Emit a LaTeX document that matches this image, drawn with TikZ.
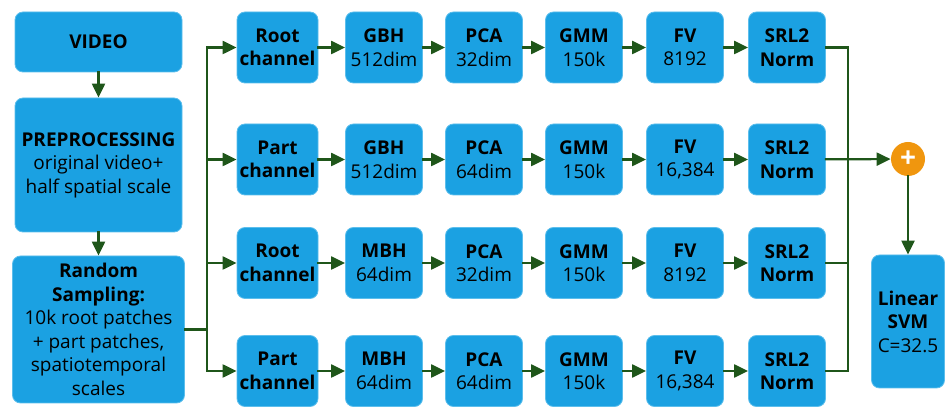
\documentclass[tikz,border=0pt]{standalone}
\usepackage{fontspec}
\setmainfont{Open Sans}
\usetikzlibrary{arrows.meta}
\definecolor{boxblue}{HTML}{1BA1E2}
\definecolor{boxedge}{HTML}{5CBEEC}
\definecolor{arrgreen}{HTML}{1F561A}
\definecolor{plusorange}{HTML}{F0960E}

\begin{document}
\begin{tikzpicture}[x=1pt,y=1pt,
		every node/.style={rectangle,rounded corners=8pt,fill=boxblue,draw=boxedge,line width=0.8pt,
			align=center,inner sep=2pt,font=\fontsize{19}{23.5}\selectfont},
		box/.style={minimum width=77pt,minimum height=71pt}]
				\useasboundingbox (0,0) rectangle (948,407);

				\node[minimum width=167pt,minimum height=60pt] (video) at (98.5,365) {\textbf{VIDEO}};
				\node[minimum width=167pt,minimum height=134pt] (prep) at (98.5,242) {\textbf{PREPROCESSING}\\original video+\\half spatial scale};
				\node[minimum width=172pt,minimum height=147pt] (samp) at (98.5,77.5) {\textbf{Random}\\\textbf{Sampling:}\\10k root patches\\+ part patches,\\spatiotemporal\\scales};

				\node[box,minimum width=81pt] (ch1) at (277.5,359.5) {\textbf{Root}\\\textbf{channel}};
				\node[box] (fe1) at (384,359.5) {\textbf{GBH}\\512dim};
				\node[box] (pc1) at (484,359.5) {\textbf{PCA}\\32dim};
				\node[box] (gm1) at (584,359.5) {\textbf{GMM}\\150k};
				\node[box] (fv1) at (685,359.5) {\textbf{FV}\\8192};
				\node[box] (nm1) at (787,359.5) {\textbf{SRL2}\\\textbf{Norm}};

				\node[box,minimum width=81pt] (ch2) at (277.5,247.5) {\textbf{Part}\\\textbf{channel}};
				\node[box] (fe2) at (384,247.5) {\textbf{GBH}\\512dim};
				\node[box] (pc2) at (484,247.5) {\textbf{PCA}\\64dim};
				\node[box] (gm2) at (584,247.5) {\textbf{GMM}\\150k};
				\node[box] (fv2) at (685,247.5) {\textbf{FV}\\16,384};
				\node[box] (nm2) at (787,247.5) {\textbf{SRL2}\\\textbf{Norm}};

				\node[box,minimum width=81pt] (ch3) at (277.5,144) {\textbf{Root}\\\textbf{channel}};
				\node[box] (fe3) at (384,144) {\textbf{MBH}\\64dim};
				\node[box] (pc3) at (484,144) {\textbf{PCA}\\32dim};
				\node[box] (gm3) at (584,144) {\textbf{GMM}\\150k};
				\node[box] (fv3) at (685,144) {\textbf{FV}\\8192};
				\node[box] (nm3) at (787,144) {\textbf{SRL2}\\\textbf{Norm}};

				\node[box,minimum width=81pt] (ch4) at (277.5,36) {\textbf{Part}\\\textbf{channel}};
				\node[box] (fe4) at (384,36) {\textbf{MBH}\\64dim};
				\node[box] (pc4) at (484,36) {\textbf{PCA}\\64dim};
				\node[box] (gm4) at (584,36) {\textbf{GMM}\\150k};
				\node[box] (fv4) at (685,36) {\textbf{FV}\\16,384};
				\node[box] (nm4) at (787,36) {\textbf{SRL2}\\\textbf{Norm}};

				\node[circle,rounded corners=0pt,fill=plusorange,draw=none,minimum size=34pt,inner sep=0pt,
					text=white,font=\fontsize{28}{28}\selectfont] (plus) at (908,248) {\textbf{+}};
				\node[minimum width=73pt,minimum height=133pt] (svm) at (908,85.5) {\textbf{Linear}\\\textbf{SVM}\\C=32.5};

				% junctions
				\coordinate (tr) at (207,77.5);
				\coordinate (j1) at (207,359.5);
				\coordinate (j2) at (207,247.5);
				\coordinate (j3) at (207,144);
				\coordinate (j4) at (207,36);
				\coordinate (k1) at (848,359.5);
				\coordinate (k3) at (848,144);
				\coordinate (k4) at (848,36);

				\begin{scope}[every edge/.style={draw=arrgreen,line width=2.2pt,line cap=rect},
					          >={Triangle[length=14pt,width=13pt]}]
					\path [->] (video) edge (prep);
					\path [->] (prep) edge (samp);
					\path [-] (samp) edge (tr);
					\path [-] (j1) edge (j4);
					\path [->] (j1) edge (ch1) (j2) edge (ch2) (j3) edge (ch3) (j4) edge (ch4);
					\path [->] (ch1) edge (fe1) (fe1) edge (pc1) (pc1) edge (gm1) (gm1) edge (fv1) (fv1) edge (nm1);
					\path [->] (ch2) edge (fe2) (fe2) edge (pc2) (pc2) edge (gm2) (gm2) edge (fv2) (fv2) edge (nm2);
					\path [->] (ch3) edge (fe3) (fe3) edge (pc3) (pc3) edge (gm3) (gm3) edge (fv3) (fv3) edge (nm3);
					\path [->] (ch4) edge (fe4) (fe4) edge (pc4) (pc4) edge (gm4) (gm4) edge (fv4) (fv4) edge (nm4);
					\path [-] (nm1) edge (k1) (nm3) edge (k3) (nm4) edge (k4) (k1) edge (k4);
					\path [->] (nm2) edge (plus);
					\path [->] (plus) edge (svm);
				\end{scope}
			\end{tikzpicture}
\end{document}
